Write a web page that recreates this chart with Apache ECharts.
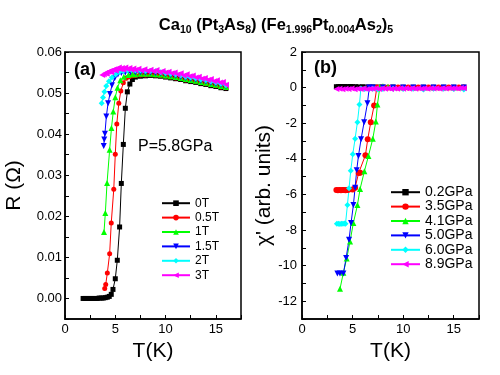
<!DOCTYPE html>
<html>
<head>
  <meta charset="UTF-8">
  <style>
    html, body { margin: 0; padding: 0; background: #fff; }
  </style>
  <script src="https://cdn.jsdelivr.net/npm/echarts@6/dist/echarts.min.js"></script>
</head>
<body>
  <div id="chart" style="width: 500px; height: 375px;"></div>
  <script>
    // panel (a): R vs T at P=5.8GPa, [T(K), R(ohm)]
    const r0T = [[1.8,0],[2.0,0],[2.2,0],[2.4,0],[2.6,0],[2.8,0],[3.0,0],[3.2,0],[3.4,0.0001],[3.6,0.0001],[3.8,0.0001],[4.0,0.0002],[4.2,0.0003],[4.4,0.0005],[4.6,0.001],[4.77,0.0022],[5.0,0.0048],[5.2,0.0093],[5.43,0.0174],[5.6,0.028],[5.8,0.0375],[6.0,0.0463],[6.2,0.0503],[6.45,0.0522],[6.7,0.0533],[7.0,0.0539],[7.5,0.0541],[8.0,0.0542],[8.5,0.0543],[9.0,0.0542],[9.5,0.0541],[10.0,0.0539],[10.5,0.0537],[11.0,0.0535],[11.5,0.0533],[12.0,0.053],[12.5,0.0528],[13.0,0.0526],[13.5,0.0523],[14.0,0.0521],[14.5,0.0518],[15.0,0.0516],[15.5,0.0513],[16.0,0.0511]]
    const r05T = [[3.95,0.0024],[4.05,0.0034],[4.21,0.0062],[4.44,0.0109],[4.6,0.0184],[4.85,0.0266],[5.0,0.0351],[5.15,0.0425],[5.35,0.0475],[5.55,0.0505],[5.8,0.0525],[6.1,0.0536],[6.4,0.054],[6.7,0.0542],[7.0,0.0543],[7.5,0.0544],[8.0,0.0544],[8.5,0.0545],[9.0,0.0544],[9.5,0.0543],[10.0,0.0541],[10.5,0.0539],[11.0,0.0537],[11.5,0.0535],[12.0,0.0532],[12.5,0.053],[13.0,0.0528],[13.5,0.0525],[14.0,0.0523],[14.5,0.052],[15.0,0.0518],[15.5,0.0515],[16.0,0.0513]]
    const r1T = [[3.88,0.0162],[4.01,0.0208],[4.18,0.0281],[4.44,0.0362],[4.62,0.0415],[4.8,0.0455],[5.0,0.049],[5.22,0.0513],[5.5,0.0531],[5.85,0.054],[6.3,0.0544],[6.7,0.0546],[7.0,0.0546],[7.5,0.0547],[8.0,0.0547],[8.5,0.0547],[9.0,0.0546],[9.5,0.0545],[10.0,0.0543],[10.5,0.0541],[11.0,0.0539],[11.5,0.0537],[12.0,0.0534],[12.5,0.0532],[13.0,0.053],[13.5,0.0527],[14.0,0.0525],[14.5,0.0522],[15.0,0.052],[15.5,0.0517],[16.0,0.0515]]
    const r15T = [[3.85,0.0371],[3.9,0.0387],[3.97,0.0401],[4.11,0.0443],[4.28,0.0475],[4.47,0.0498],[4.67,0.0519],[4.94,0.0536],[5.26,0.0545],[5.6,0.0549],[6.0,0.055],[6.5,0.0551],[7.0,0.0551],[7.5,0.0551],[8.0,0.055],[8.5,0.055],[9.0,0.0549],[9.5,0.0548],[10.0,0.0546],[10.5,0.0544],[11.0,0.0542],[11.5,0.054],[12.0,0.0537],[12.5,0.0535],[13.0,0.0533],[13.5,0.053],[14.0,0.0528],[14.5,0.0525],[15.0,0.0523],[15.5,0.052],[16.0,0.0517]]
    const r2T = [[3.65,0.0475],[3.78,0.0489],[3.92,0.0503],[4.1,0.0517],[4.37,0.0529],[4.67,0.0538],[5.03,0.0545],[5.4,0.0551],[5.8,0.0554],[6.2,0.0555],[6.6,0.0556],[7.0,0.0555],[7.5,0.0555],[8.0,0.0554],[8.5,0.0554],[9.0,0.0553],[9.5,0.0551],[10.0,0.0549],[10.5,0.0547],[11.0,0.0545],[11.5,0.0543],[12.0,0.054],[12.5,0.0538],[13.0,0.0536],[13.5,0.0533],[14.0,0.0531],[14.5,0.0528],[15.0,0.0526],[15.5,0.0523],[16.0,0.0519]]
    const r3T = [[3.7,0.0544],[3.85,0.0546],[4.0,0.0549],[4.15,0.0547],[4.3,0.0552],[4.45,0.0554],[4.6,0.0551],[4.75,0.0556],[4.9,0.0558],[5.05,0.0555],[5.2,0.056],[5.35,0.0562],[5.5,0.0558],[5.65,0.0561],[5.8,0.0557],[6.0,0.0562],[6.2,0.0558],[6.4,0.0561],[6.6,0.0557],[6.8,0.056],[7.0,0.0556],[7.3,0.0559],[7.6,0.0555],[7.9,0.0558],[8.2,0.0554],[8.5,0.0557],[8.8,0.0553],[9.1,0.0556],[9.4,0.0551],[9.7,0.0554],[10.0,0.055],[10.3,0.0552],[10.6,0.0548],[10.9,0.055],[11.2,0.0545],[11.5,0.0548],[11.8,0.0543],[12.1,0.0546],[12.4,0.0541],[12.7,0.0543],[13.0,0.0538],[13.3,0.054],[13.6,0.0535],[13.9,0.0537],[14.2,0.0532],[14.5,0.0534],[14.8,0.0529],[15.1,0.0531],[15.4,0.0526],[15.7,0.0527],[16.0,0.052]]

    // panel (b): chi' vs T at several pressures, [T(K), chi']
    const c02 = [[3.4,0.05],[3.6,0.05],[3.8,0.06],[4.0,0.05],[4.2,0.06],[4.4,0.05],[4.6,0.05],[4.8,0.06],[5.0,0.05],[5.3,0.05],[5.6,0.04],[6.0,0.05],[6.5,0.04],[7.0,0.04],[7.5,0.03],[8.0,0.03],[9.0,0.03],[10.0,0.02],[11.0,0.02],[12.0,0.02],[13.0,0.02],[14.0,0.02],[15.0,0.02],[16.0,0.02]]
    const c35 = [[3.4,-5.75],[3.55,-5.76],[3.7,-5.75],[3.85,-5.76],[4.0,-5.75],[4.15,-5.75],[4.3,-5.76],[4.45,-5.75],[4.6,-5.74],[5.0,-5.73],[5.25,-5.62],[5.6,-4.8],[5.75,-4.78],[6.27,-3.8],[6.5,-2.9],[6.8,-1.94],[7.13,-1.0],[7.4,0.0],[7.8,0.0],[8.5,0.0],[9.5,0.0],[10.5,0.0],[11.5,0.0],[12.5,0.0],[13.5,0.0],[14.5,0.0],[15.5,0.0],[16.0,0.0]]
    const c41 = [[3.76,-11.3],[4.09,-10.4],[4.42,-9.6],[4.75,-8.64],[5.08,-7.6],[5.48,-6.6],[5.74,-5.7],[6.17,-4.7],[6.57,-3.84],[7.0,-2.87],[7.3,-1.9],[7.46,-0.95],[7.7,0.05],[8.0,0.08],[8.5,0.05],[9.0,0.02],[10.0,0.0],[11.0,0.0],[12.0,0.0],[13.0,0.0],[14.0,0.0],[15.0,0.0],[16.0,0.0]]
    const c50 = [[3.5,-10.45],[3.75,-10.45],[4.09,-10.45],[4.36,-9.57],[4.65,-8.55],[4.85,-7.6],[5.08,-6.6],[5.25,-5.62],[5.41,-4.64],[5.58,-3.84],[5.84,-2.9],[6.14,-1.94],[6.47,-0.88],[6.65,0.0],[7.0,0.0],[8.0,0.0],[9.0,0.0],[10.0,0.0],[11.0,0.0],[12.0,0.0],[13.0,0.0],[14.0,0.0],[15.0,0.0],[16.0,0.0]]
    const c60 = [[3.45,-7.65],[3.6,-7.65],[3.75,-7.66],[3.9,-7.65],[4.05,-7.65],[4.2,-7.64],[4.3,-7.65],[4.49,-6.6],[4.65,-5.66],[4.82,-4.67],[5.02,-3.74],[5.25,-2.87],[5.48,-1.94],[5.68,-0.95],[5.82,-0.05],[6.2,-0.08],[6.6,-0.1],[7.0,-0.06],[7.5,-0.1],[8.0,-0.08],[9.0,-0.06],[10.0,-0.08],[11.0,-0.06],[12.0,-0.1],[13.0,-0.07],[14.0,-0.06],[15.0,-0.08],[16.0,-0.1]]
    const c89 = [[3.4,-0.08],[3.7,-0.07],[4.0,-0.09],[4.3,-0.06],[4.6,-0.08],[4.9,-0.05],[5.2,-0.09],[5.5,-0.06],[5.8,-0.08],[6.1,-0.05],[6.4,-0.09],[6.7,-0.06],[7.0,-0.07],[7.3,-0.04],[7.6,-0.08],[7.9,-0.05],[8.2,-0.07],[8.5,-0.04],[8.8,-0.08],[9.1,-0.05],[9.4,-0.07],[9.7,-0.04],[10.0,-0.06],[10.3,-0.03],[10.6,-0.07],[10.9,-0.04],[11.2,-0.06],[11.5,-0.03],[11.8,-0.06],[12.1,-0.04],[12.4,-0.06],[12.7,-0.03],[13.0,-0.05],[13.3,-0.03],[13.6,-0.06],[13.9,-0.03],[14.2,-0.05],[14.5,-0.02],[14.8,-0.05],[15.1,-0.03],[15.4,-0.05],[15.7,-0.02],[16.0,-0.04]]

    const fieldNames = ['0T', '0.5T', '1T', '1.5T', '2T', '3T']
    const pressureNames = ['0.2GPa', '3.5GPa', '4.1GPa', '5.0GPa', '6.0GPa', '8.9GPa']
    const xTickLabels = [0, 5, 10, 15]
    const rTickLabels = [0, 0.01, 0.02, 0.03, 0.04, 0.05, 0.06]
    const chiTickLabels = [2, 0, -2, -4, -6, -8, -10, -12]

    const colors = ['#000000', '#ff0000', '#00ff00', '#0000ff', '#00ffff', '#ff00ff']
    const symbols = ['rect', 'circle', 'triangle', 'triangle', 'diamond', 'triangle']
    const rotates = [0, 0, 0, 180, 0, 90]
    const FONT = '"Liberation Sans", Arial, sans-serif'

    function pick (list, digits) {
      return function (v) {
        const hit = list.find(t => Math.abs(t - v) < 1e-7)
        return hit === undefined ? '' : hit.toFixed(digits)
      }
    }

    function makeSeries (name, data, i, g, size) {
      return {
        name: name,
        type: 'line',
        xAxisIndex: g,
        yAxisIndex: g,
        data: data,
        symbol: symbols[i],
        symbolRotate: rotates[i],
        symbolSize: size,
        showAllSymbol: true,
        lineStyle: { color: colors[i], width: 1 },
        itemStyle: { color: colors[i] },
        emphasis: { disabled: true }
      }
    }

    function xAxisOf (g) {
      return {
        gridIndex: g, type: 'value', min: 0, max: 17.5, interval: 2.5,
        name: 'T(K)', nameLocation: 'middle', nameGap: 12,
        nameTextStyle: { fontSize: 21, color: '#000', fontFamily: FONT },
        axisLine: { onZero: false, lineStyle: { color: '#000', width: 1.5 } },
        axisTick: { inside: true, length: 4, lineStyle: { color: '#000', width: 1 } },
        axisLabel: { formatter: pick(xTickLabels, 0), color: '#000', fontSize: 13, margin: 4, fontFamily: FONT },
        splitLine: { show: false }
      }
    }

    const myChart = echarts.init(document.getElementById('chart'))

    const options = {
      animation: false,
      backgroundColor: '#fff',
      title: {
        text: '{m|Ca}{s|10}{m| (Pt}{s|3}{m|As}{s|8}{m|) (Fe}{s|1.996}{m|Pt}{s|0.004}{m|As}{s|2}{m|)}{s|5}',
        left: 271,
        top: 9,
        textAlign: 'center',
        textStyle: {
          rich: {
            m: { fontSize: 16.5, fontWeight: 'bold', color: '#000', fontFamily: FONT, lineHeight: 22 },
            s: { fontSize: 10.5, fontWeight: 'bold', color: '#000', fontFamily: FONT, lineHeight: 12, verticalAlign: 'bottom' }
          }
        }
      },
      grid: [
        { left: 65, top: 52, width: 176, height: 267, show: true, borderColor: '#000', borderWidth: 1.5 },
        { left: 302, top: 52, width: 177, height: 267, show: true, borderColor: '#000', borderWidth: 1.5 }
      ],
      legend: [
        {
          data: fieldNames, orient: 'vertical', left: 156, top: 191,
          itemWidth: 28, itemHeight: 7, itemGap: 0,
          textStyle: { fontSize: 12, lineHeight: 14.4, color: '#000', fontFamily: FONT },
          selectedMode: false
        },
        {
          data: pressureNames, orient: 'vertical', left: 385, top: 180,
          itemWidth: 29, itemHeight: 8, itemGap: 0,
          textStyle: { fontSize: 14, lineHeight: 14.4, color: '#000', fontFamily: FONT },
          selectedMode: false
        }
      ],
      xAxis: [xAxisOf(0), xAxisOf(1)],
      yAxis: [
        {
          gridIndex: 0, type: 'value', min: -0.005, max: 0.06, interval: 0.005,
          name: 'R (Ω)', nameLocation: 'middle', nameGap: 40,
          nameTextStyle: { fontSize: 21, color: '#000', fontFamily: FONT },
          axisLine: { onZero: false, lineStyle: { color: '#000', width: 1.5 } },
          axisTick: { inside: true, length: 4, lineStyle: { color: '#000', width: 1 } },
          axisLabel: { formatter: pick(rTickLabels, 2), color: '#000', fontSize: 13, margin: 3, fontFamily: FONT },
          splitLine: { show: false }
        },
        {
          gridIndex: 1, type: 'value', min: -13, max: 2, interval: 1,
          name: "χ' (arb. units)", nameLocation: 'middle', nameGap: 21,
          nameTextStyle: { fontSize: 21, color: '#000', fontFamily: FONT },
          axisLine: { onZero: false, lineStyle: { color: '#000', width: 1.5 } },
          axisTick: { inside: true, length: 4, lineStyle: { color: '#000', width: 1 } },
          axisLabel: { formatter: pick(chiTickLabels, 0), color: '#000', fontSize: 13, margin: 5, fontFamily: FONT },
          splitLine: { show: false }
        }
      ],
      graphic: [
        { type: 'text', left: 74, top: 61, style: { text: '(a)', font: 'bold 18px ' + FONT, fill: '#000' } },
        { type: 'text', left: 138, top: 139, style: { text: 'P=5.8GPa', font: '16px ' + FONT, fill: '#000' } },
        { type: 'text', left: 314, top: 59, style: { text: '(b)', font: 'bold 18px ' + FONT, fill: '#000' } }
      ],
      series: [
        makeSeries(fieldNames[0], r0T, 0, 0, 5),
        makeSeries(fieldNames[1], r05T, 1, 0, 5),
        makeSeries(fieldNames[2], r1T, 2, 0, 6),
        makeSeries(fieldNames[3], r15T, 3, 0, 6),
        makeSeries(fieldNames[4], r2T, 4, 0, 6),
        makeSeries(fieldNames[5], r3T, 5, 0, 6),
        makeSeries(pressureNames[0], c02, 0, 1, 5),
        makeSeries(pressureNames[1], c35, 1, 1, 6),
        makeSeries(pressureNames[2], c41, 2, 1, 6),
        makeSeries(pressureNames[3], c50, 3, 1, 6),
        makeSeries(pressureNames[4], c60, 4, 1, 6),
        makeSeries(pressureNames[5], c89, 5, 1, 6)
      ]
    }

    myChart.setOption(options)
  </script>
</body>
</html>
